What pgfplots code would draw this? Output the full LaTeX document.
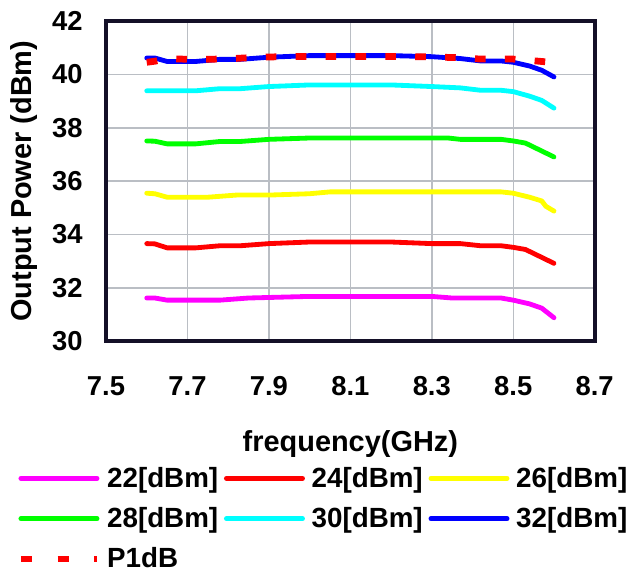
\documentclass[border=0pt]{standalone}
\usepackage{pgfplots}
\pgfplotsset{compat=1.18}
\usepackage{fontspec}
\setmainfont{Liberation Sans}
\definecolor{cMag}{RGB}{255,0,255}
\definecolor{cRed}{RGB}{255,0,0}
\definecolor{cYel}{RGB}{255,255,0}
\definecolor{cGrn}{RGB}{0,255,0}
\definecolor{cCyn}{RGB}{0,255,255}
\definecolor{cBlu}{RGB}{0,0,255}
\definecolor{cFrame}{RGB}{20,16,40}
\definecolor{cGrid}{RGB}{186,190,196}
\begin{document}
\begin{tikzpicture}
\begin{axis}[
  scale only axis,
  width=253.5pt, height=166pt,
  xmin=7.5, xmax=8.7, ymin=30, ymax=42,
  xtick={7.5,7.7,7.9,8.1,8.3,8.5,8.7},
  xticklabels={7.5,7.7,7.9,8.1,8.3,8.5,8.7},
  ytick={30,32,34,36,38,40,42},
  tick style={draw=none},
  xmajorgrids, ymajorgrids,
  grid style={draw=cGrid, line width=0.75pt},
  axis line style={draw=cFrame, line width=2.2pt},
  /pgf/number format/assume math mode=true,
  tick label style={font=\bfseries\fontsize{14.2}{16}\selectfont},
  xticklabel style={anchor=center, yshift=-23.5pt, inner sep=0pt},
  yticklabel style={anchor=east, xshift=-12pt, inner sep=0pt},
  xlabel={frequency(GHz)},
  ylabel={Output Power (dBm)},
  label style={font=\bfseries\fontsize{15}{17}\selectfont},
  xlabel style={at={(axis description cs:0.5,0)}, anchor=center, yshift=-53.5pt},
  ylabel style={at={(axis description cs:0,0.5)}, anchor=center, yshift=42.5pt},
  legend columns=3,
  legend cell align=left,
  legend style={at={(axis description cs:0.5,0)}, anchor=north, xshift=-14pt, yshift=-62pt,
    draw=none, fill=none, font=\bfseries\fontsize{14.4}{17}\selectfont,
    row sep=7pt,
    nodes={inner sep=1pt},
    /tikz/every odd column/.append style={column sep=2.5pt},
    /tikz/every even column/.append style={column sep=2pt}},
  legend image code/.code={\draw[#1, line cap=round] (0pt,0pt) -- (39.5pt,0pt);},
  every axis plot/.append style={line width=2.5pt, line cap=round, line join=round},
]
\addplot[cMag] coordinates {(7.60,31.62)(7.62,31.62)(7.65,31.54)(7.70,31.54)(7.78,31.54)(7.85,31.62)(7.90,31.64)(8.00,31.68)(8.10,31.68)(8.20,31.68)(8.30,31.68)(8.35,31.62)(8.47,31.62)(8.50,31.54)(8.54,31.40)(8.57,31.24)(8.60,30.88)};
\addlegendentry{22[dBm]}
\addplot[cRed] coordinates {(7.60,33.66)(7.62,33.65)(7.65,33.50)(7.72,33.50)(7.78,33.58)(7.83,33.58)(7.90,33.66)(8.00,33.72)(8.10,33.72)(8.20,33.72)(8.30,33.66)(8.37,33.66)(8.42,33.58)(8.47,33.58)(8.50,33.52)(8.53,33.44)(8.60,32.92)};
\addlegendentry{24[dBm]}
\addplot[cYel] coordinates {(7.60,35.55)(7.62,35.53)(7.65,35.40)(7.75,35.40)(7.82,35.48)(7.90,35.48)(8.00,35.53)(8.05,35.60)(8.20,35.60)(8.30,35.60)(8.47,35.60)(8.50,35.55)(8.54,35.40)(8.57,35.26)(8.58,35.06)(8.60,34.88)};
\addlegendentry{26[dBm]}
\addplot[cGrn] coordinates {(7.60,37.51)(7.62,37.50)(7.65,37.40)(7.72,37.40)(7.78,37.49)(7.83,37.49)(7.90,37.57)(8.00,37.62)(8.10,37.62)(8.20,37.62)(8.30,37.62)(8.34,37.62)(8.37,37.57)(8.47,37.57)(8.50,37.51)(8.53,37.43)(8.60,36.91)};
\addlegendentry{28[dBm]}
\addplot[cCyn] coordinates {(7.60,39.39)(7.72,39.39)(7.78,39.47)(7.83,39.47)(7.90,39.55)(8.00,39.61)(8.10,39.61)(8.20,39.61)(8.30,39.55)(8.37,39.50)(8.42,39.41)(8.47,39.41)(8.50,39.36)(8.54,39.19)(8.57,39.03)(8.60,38.74)};
\addlegendentry{30[dBm]}
\addplot[cBlu] coordinates {(7.60,40.62)(7.62,40.62)(7.65,40.49)(7.72,40.49)(7.78,40.57)(7.83,40.57)(7.90,40.65)(8.00,40.71)(8.10,40.71)(8.20,40.71)(8.30,40.67)(8.37,40.60)(8.42,40.51)(8.47,40.51)(8.50,40.46)(8.54,40.32)(8.57,40.16)(8.60,39.91)};
\addlegendentry{32[dBm]}
\addplot[cRed, line width=3.5pt, line cap=butt, dash pattern=on 5.5pt off 10pt,
  legend image code/.code={\draw[cRed, line width=3.5pt, dash pattern=on 6pt off 13pt] (0pt,0pt) -- (39.5pt,0pt);}]
  coordinates {(7.60,40.46)(7.62,40.50)(7.65,40.60)(7.72,40.56)(7.80,40.59)(7.85,40.63)(7.90,40.66)(8.00,40.68)(8.10,40.68)(8.20,40.68)(8.30,40.66)(8.37,40.63)(8.42,40.58)(8.47,40.58)(8.50,40.58)(8.54,40.53)(8.60,40.45)};
\addlegendentry{P1dB}
\end{axis}
\path (current axis.south west) ++(-55pt,-120pt) rectangle ([shift={(9pt,11pt)}]current axis.north east);
\end{tikzpicture}
\end{document}
